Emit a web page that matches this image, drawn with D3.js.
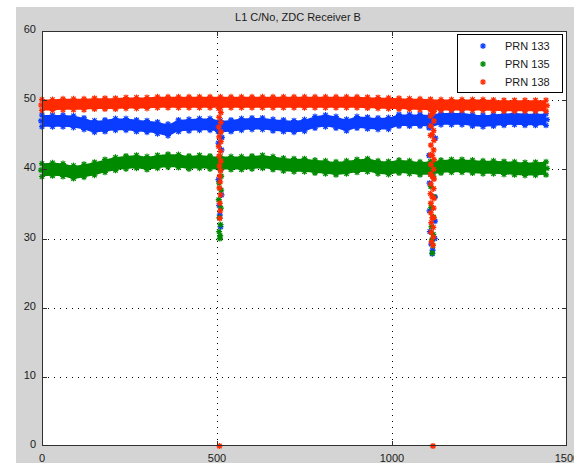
<!DOCTYPE html>
<html>
<head>
<meta charset="utf-8">
<script src="https://cdn.jsdelivr.net/npm/d3@7"></script>
<style>
  html, body { margin: 0; padding: 0; background: #fff; }
  svg { display: block; }
  text { font-family: "Liberation Sans", Arial, sans-serif; fill: #1a1a1a; }
</style>
</head>
<body>
<svg id="chart" width="574" height="463"></svg>
<script>
// sample times (s) for the band centres
const times = [0, 30, 60, 90, 120, 150, 180, 210, 240, 270, 300, 330, 360, 390, 420, 450, 480,
  510, 540, 570, 600, 630, 660, 690, 720, 750, 780, 810, 840, 870, 900, 930, 960, 990, 1020,
  1050, 1080, 1110, 1140, 1170, 1200, 1230, 1260, 1290, 1320, 1350, 1380, 1410, 1440];

// C/No band centres (dB-Hz)
const prn133 = [47.0, 47.0, 47.0, 46.9, 46.6, 46.2, 46.3, 46.5, 46.5, 46.3, 46.2, 46.0, 45.7,
  46.3, 46.4, 46.5, 46.5, 46.2, 46.3, 46.5, 46.6, 46.6, 46.4, 46.3, 46.2, 46.35, 46.8, 47.0,
  46.8, 46.4, 46.8, 46.7, 46.6, 46.65, 47.1, 47.1, 47.1, 47.0, 47.3, 47.3, 47.3, 47.1, 47.0,
  47.1, 47.2, 47.3, 47.2, 47.2, 47.2];
const prn135 = [39.9, 40.0, 39.9, 39.6, 39.8, 40.1, 40.5, 40.8, 41.0, 41.1, 40.9, 41.1, 41.25,
  41.2, 41.0, 41.1, 41.0, 40.9, 40.9, 40.9, 41.0, 41.1, 40.9, 40.7, 40.6, 40.6, 40.4, 40.3,
  40.15, 40.3, 40.5, 40.6, 40.3, 40.2, 40.4, 40.3, 40.15, 40.2, 40.4, 40.5, 40.5, 40.4, 40.3,
  40.3, 40.2, 40.15, 40.05, 40.1, 40.15];
const prn138 = [49.3, 49.3, 49.4, 49.4, 49.4, 49.5, 49.5, 49.5, 49.6, 49.6, 49.6, 49.7, 49.7,
  49.7, 49.7, 49.7, 49.7, 49.7, 49.7, 49.7, 49.7, 49.7, 49.7, 49.7, 49.7, 49.7, 49.7, 49.7,
  49.7, 49.7, 49.7, 49.65, 49.6, 49.55, 49.5, 49.45, 49.4, 49.35, 49.3, 49.3, 49.3, 49.3,
  49.3, 49.25, 49.2, 49.2, 49.2, 49.2, 49.2];

// half thickness of each noisy band (dB-Hz)
const bandHalf = [1.2, 1.3, 1.15];

// samples during the two signal dropouts: [time, C/No]
const drop133 = [[503, 45.5], [514, 44.6], [504, 43.8], [513, 42.8], [503, 41.5], [514, 40.2],
  [504, 38.5], [513, 36.3], [506, 34.8], [508, 33.4], [510, 31.7],
  [1106, 46], [1124, 44.5], [1106, 42], [1124, 40], [1107, 38], [1123, 36], [1107, 34],
  [1123, 32.5], [1108, 31], [1122, 30], [1112, 29.2], [1116, 28.3], [1115, 27.8]];
const drop135 = [[512, 39], [506, 38], [512, 37], [505, 35.6], [511, 34.4], [507, 33],
  [510, 32], [506, 31], [509, 30.4], [508, 30],
  [1118, 39], [1111, 37.5], [1120, 36], [1112, 34.5], [1119, 33.1], [1113, 31.7], [1118, 30.6],
  [1114, 29.8], [1117, 29], [1115, 27.9]];
const drop138 = [[505, 48.8], [511, 48.2], [506, 47.5], [511, 46.8], [505, 46.1], [511, 45.4],
  [506, 44.7], [511, 44], [505, 43.3], [510, 42.6], [506, 41.9], [511, 41.2], [507, 40.5],
  [510, 39.8], [508, 39], [509, 38.2], [507, 37.3], [510, 36.3], [508, 35.1], [509, 34],
  [508, 32.9], [507, 0],
  [1110, 48.8], [1120, 48.4], [1110, 47.7], [1120, 47], [1111, 46.3], [1119, 45.6], [1110, 44.9],
  [1120, 44.2], [1111, 43.5], [1119, 42.8], [1110, 42.1], [1120, 41.4], [1111, 40.7], [1119, 40],
  [1110, 39.3], [1120, 38.6], [1111, 37.9], [1119, 37.2], [1110, 36.5], [1120, 35.8], [1111, 35.1],
  [1119, 34.4], [1111, 33.7], [1119, 33], [1112, 32.3], [1118, 31.6], [1112, 30.9], [1118, 30.2],
  [1113, 29.5], [1117, 29], [1115, 48], [1115, 45], [1115, 42], [1115, 39], [1115, 36],
  [1115, 33], [1117, 0]];

const seriesNames = ["PRN 133", "PRN 135", "PRN 138"];
const seriesColors = ["#0a3cff", "#008a00", "#ff2a00"];
const xTicks = [0, 500, 1000, 1500];
const yTicks = [0, 10, 20, 30, 40, 50, 60];

(function() {
  const svg = d3.select("#chart");
  const mLeft = 42, mRight = 567, mTop = 31, mBottom = 446;

  const x = d3.scaleLinear().domain([0, 1500]).range([mLeft, mRight]);
  const y = d3.scaleLinear().domain([0, 60]).range([mBottom, mTop]);

  // figure background
  svg.append("rect").attr("x", 16).attr("y", 7).attr("width", 558).attr("height", 456)
    .attr("fill", "#d4d4d4");
  svg.append("rect").attr("x", mLeft).attr("y", mTop)
    .attr("width", mRight - mLeft).attr("height", mBottom - mTop).attr("fill", "#fff");

  // dotted grid
  const grid = svg.append("g").attr("stroke", "#000").attr("stroke-width", 1)
    .attr("stroke-dasharray", "1,5");
  grid.selectAll(".gx").data(xTicks.slice(1, -1)).join("line")
    .attr("x1", d => Math.round(x(d)) + 0.5).attr("x2", d => Math.round(x(d)) + 0.5)
    .attr("y1", mTop).attr("y2", mBottom);
  grid.selectAll(".gy").data(yTicks.slice(1, -1)).join("line")
    .attr("y1", d => Math.round(y(d)) + 0.5).attr("y2", d => Math.round(y(d)) + 0.5)
    .attr("x1", mLeft).attr("x2", mRight);

  const star = "M-3,0H3M0,-3V3M-2.2,-2.2L2.2,2.2M-2.2,2.2L2.2,-2.2";
  const plot = svg.append("g");

  [prn133, prn135, prn138].forEach((vals, i) => {
    const g = plot.append("g");
    const col = seriesColors[i];
    const h = bandHalf[i];
    const pts = times.map((t, k) => ({ t, v: vals[k] }));

    const area = d3.area()
      .x(d => x(d.t))
      .y0(d => y(d.v - h) - 2.5)
      .y1(d => y(d.v + h) + 2.5)
      .curve(d3.curveMonotoneX);
    g.append("path").datum(pts).attr("d", area).attr("fill", col);

    const edges = [];
    pts.forEach(d => {
      edges.push([x(d.t), y(d.v + h) + 2.5]);
      edges.push([x(d.t), y(d.v - h) - 2.5]);
    });
    edges.push([x(pts[0].t) - 1, y(pts[0].v)]);
    edges.push([x(pts[pts.length - 1].t) + 1, y(pts[pts.length - 1].v)]);

    g.selectAll(".e").data(edges).join("path")
      .attr("d", star).attr("transform", d => `translate(${d[0]},${d[1]})`)
      .attr("stroke", col).attr("fill", "none").attr("stroke-width", 1.2);

    const drops = [drop133, drop135, drop138][i];
    g.selectAll(".d").data(drops).join("path")
      .attr("d", star).attr("transform", d => `translate(${x(d[0])},${y(d[1])})`)
      .attr("stroke", col).attr("fill", "none").attr("stroke-width", 1.3);
  });

  // axes frame
  svg.append("rect").attr("x", mLeft + 0.5).attr("y", mTop + 0.5)
    .attr("width", mRight - mLeft - 1).attr("height", mBottom - mTop - 1)
    .attr("fill", "none").attr("stroke", "#303030").attr("stroke-width", 1);

  const ticks = svg.append("g").attr("stroke", "#303030");
  xTicks.slice(1, -1).forEach(d => {
    const xx = Math.round(x(d)) + 0.5;
    ticks.append("line").attr("x1", xx).attr("x2", xx).attr("y1", mBottom).attr("y2", mBottom - 5);
    ticks.append("line").attr("x1", xx).attr("x2", xx).attr("y1", mTop).attr("y2", mTop + 5);
  });
  yTicks.slice(1, -1).forEach(d => {
    const yy = Math.round(y(d)) + 0.5;
    ticks.append("line").attr("y1", yy).attr("y2", yy).attr("x1", mLeft).attr("x2", mLeft + 5);
    ticks.append("line").attr("y1", yy).attr("y2", yy).attr("x1", mRight).attr("x2", mRight - 5);
  });

  // tick labels (the last x label runs off the figure edge, as in the original)
  svg.selectAll(".xl").data(xTicks).join("text")
    .attr("x", d => x(d)).attr("y", 462).attr("text-anchor", "middle")
    .attr("font-size", 11).text(d => d);
  svg.selectAll(".yl").data(yTicks).join("text")
    .attr("x", 36).attr("y", d => y(d) + 2).attr("text-anchor", "end")
    .attr("font-size", 11).text(d => d);

  // title
  svg.append("text").attr("x", 298).attr("y", 21).attr("text-anchor", "middle")
    .attr("font-size", 11).text("L1 C/No, ZDC Receiver B");

  // legend
  const lg = svg.append("g");
  lg.append("rect").attr("x", 457.5).attr("y", 34.5).attr("width", 105).attr("height", 58)
    .attr("fill", "#fff").attr("stroke", "#000");
  seriesNames.forEach((name, i) => {
    const yy = 46 + i * 18;
    lg.append("path").attr("d", star).attr("transform", `translate(483,${yy})`)
      .attr("stroke", seriesColors[i]).attr("fill", "none").attr("stroke-width", 1.2);
    lg.append("text").attr("x", 505).attr("y", yy + 4).attr("font-size", 11).text(name);
  });
})();
</script>
</body>
</html>
